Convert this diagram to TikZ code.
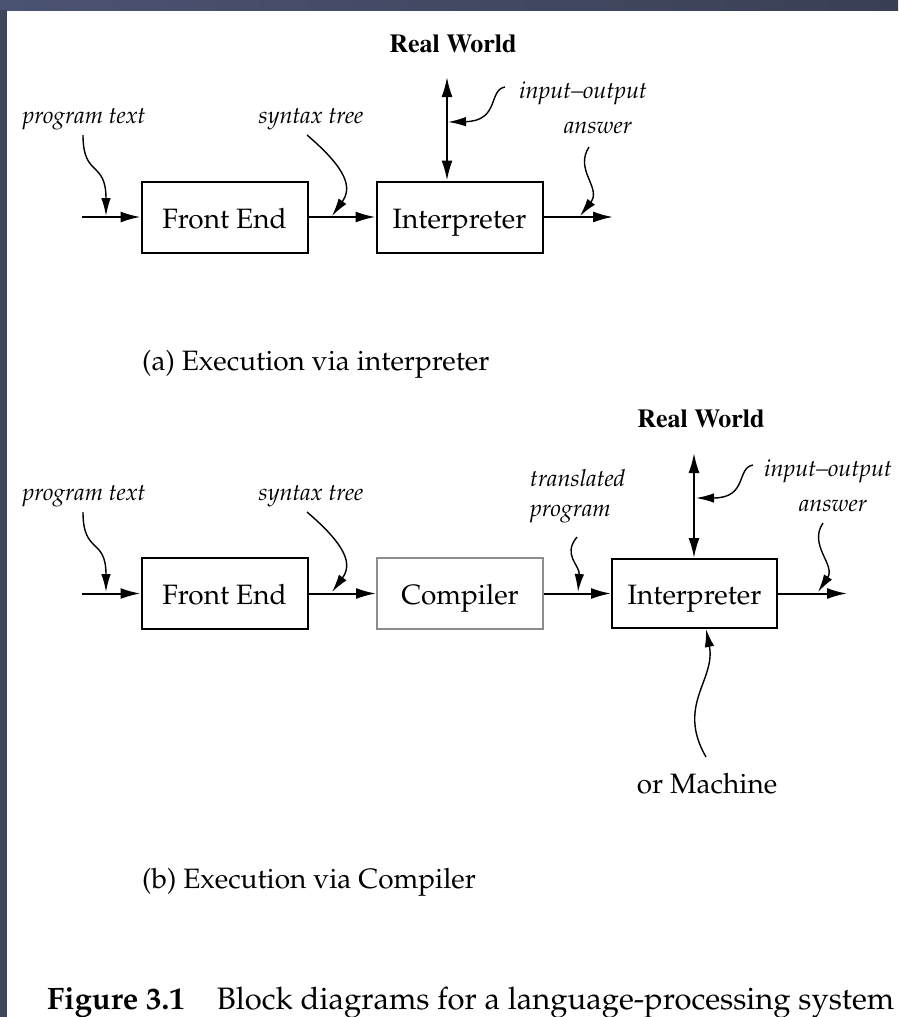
\documentclass[tikz,border=0pt]{standalone}
\usepackage[T1]{fontenc}
\usetikzlibrary{arrows.meta}
\newcommand\palf{\fontfamily{ppl}\selectfont}
\newcommand\tmsf{\fontfamily{ptm}\selectfont}
\definecolor{bandA}{HTML}{4B5372}
\definecolor{bandB}{HTML}{394055}
\definecolor{bandL}{HTML}{3E4659}
\begin{document}
\begin{tikzpicture}[x=1pt,y=-1pt,
  box/.style={draw, line width=2pt, minimum width=166pt, minimum height=71pt, inner sep=0pt, text height=27pt, text depth=5pt, font=\palf\fontsize{28}{34}\selectfont},
  gbox/.style={box, draw=black!45},
  lbl/.style={font=\palf\itshape\fontsize{23.5}{28}\selectfont, inner sep=0pt, anchor=base},
  rw/.style={font=\tmsf\bfseries\fontsize{26}{30}\selectfont, inner sep=0pt, anchor=base},
  captxt/.style={font=\palf\fontsize{28}{34}\selectfont, inner sep=0pt, anchor=base west},
  arr/.style={line width=2pt, -{Latex[length=20pt,width=11pt]}},
  darr/.style={line width=2pt, {Latex[length=20pt,width=11pt]}-{Latex[length=20pt,width=11pt]}},
  wig/.style={line width=1.4pt, -{Latex[length=18pt,width=9.5pt]}}]
\useasboundingbox (0,0) rectangle (898,1017);
\fill[white] (0,0) rectangle (898,1017);
\shade[left color=bandA, right color=bandB] (0,0) rectangle (898,10);
\fill[bandL] (0,10) rectangle (7,1017);

% ---------- (a) ----------
\node[rw] (rwA) at (453,52) {Real World};
\node[box] (feA) at (224.5,217) {Front End};
\node[box] (ipA) at (459.5,217) {Interpreter};
\coordinate (inA) at (82,217);
\coordinate (outA) at (613,217);
\coordinate (topA) at (447,77);
\draw[arr] (inA) -- (feA.west);
\draw[arr] (feA.east) -- (ipA.west);
\draw[arr] (ipA.east) -- (outA);
\draw[darr] (topA) -- (topA |- ipA.north);

\node[lbl] (ptA) at (84,123) {program text};
\node[lbl] (stA) at (311,123) {syntax tree};
\node[lbl] (ioA) at (583,98) {input--output};
\node[lbl] (anA) at (598,133) {answer};
\coordinate (ptAs) at (83,135);
\coordinate (ptAe) at (106,216);
\coordinate (stAs) at (307,135);
\coordinate (stAe) at (332,216);
\coordinate (ioAs) at (505,87);
\coordinate (ioAe) at (448,122);
\coordinate (anAs) at (589,147);
\coordinate (anAe) at (580,216);
\draw[wig] (ptAs) .. controls (83,178) and (106,160) .. (ptAe);
\draw[wig] (stAs) .. controls (348,170) and (352,188) .. (stAe);
\draw[wig] (ioAs) .. controls (488,90) and (500,121) .. (ioAe);
\draw[wig] (anAs) .. controls (574,170) and (602,188) .. (anAe);

\node[captxt] (capA) at (142,370) {(a) Execution via interpreter};

% ---------- (b) ----------
\node[rw] (rwB) at (701,427) {Real World};
\node[box] (feB) at (224.5,593.5) {Front End};
\node[gbox] (coB) at (460,593.5) {Compiler};
\node[box, minimum width=165pt, minimum height=69pt] (ipB) at (694.5,593.5) {Interpreter};
\coordinate (inB) at (82,593.5);
\coordinate (outB) at (847,593.5);
\coordinate (topB) at (694,453);
\draw[arr] (inB) -- (feB.west);
\draw[arr] (feB.east) -- (coB.west);
\draw[arr] (coB.east) -- (ipB.west);
\draw[arr] (ipB.east) -- (outB);
\draw[darr] (topB) -- (topB |- ipB.north);

\node[lbl] (ptB) at (84,500) {program text};
\node[lbl] (stB) at (311,500) {syntax tree};
\node[lbl, anchor=base west] (tpB1) at (530,486) {translated};
\node[lbl, anchor=base west] (tpB2) at (530,516) {program};
\node[lbl] (ioB) at (828,476) {input--output};
\node[lbl] (anB) at (833,511) {answer};
\coordinate (ptBs) at (83,512);
\coordinate (ptBe) at (106,592);
\coordinate (stBs) at (307,512);
\coordinate (stBe) at (332,592);
\coordinate (tpBs) at (577,537);
\coordinate (tpBe) at (578,592);
\coordinate (ioBs) at (753,465);
\coordinate (ioBe) at (696,498);
\coordinate (anBs) at (823,523);
\coordinate (anBe) at (818,592);
\draw[wig] (ptBs) .. controls (83,555) and (106,537) .. (ptBe);
\draw[wig] (stBs) .. controls (348,547) and (352,565) .. (stBe);
\draw[wig] (tpBs) .. controls (562,555) and (580,565) .. (tpBe);
\draw[wig] (ioBs) .. controls (736,468) and (748,498) .. (ioBe);
\draw[wig] (anBs) .. controls (808,545) and (836,565) .. (anBe);

\node[captxt, anchor=base] (mach) at (707,793) {or Machine};
\coordinate (machS) at (706,757);
\draw[wig] (machS) .. controls (676,705) and (716,680) .. (ipB.south -| machS);

\node[captxt] (capB) at (142,888) {(b) Execution via Compiler};

% ---------- caption ----------
\node[captxt] (fig) at (47,1009) {\fontsize{31}{37}\selectfont\textbf{Figure 3.1}\hspace{32pt}Block diagrams for a language-processing system};
\end{tikzpicture}
\end{document}
